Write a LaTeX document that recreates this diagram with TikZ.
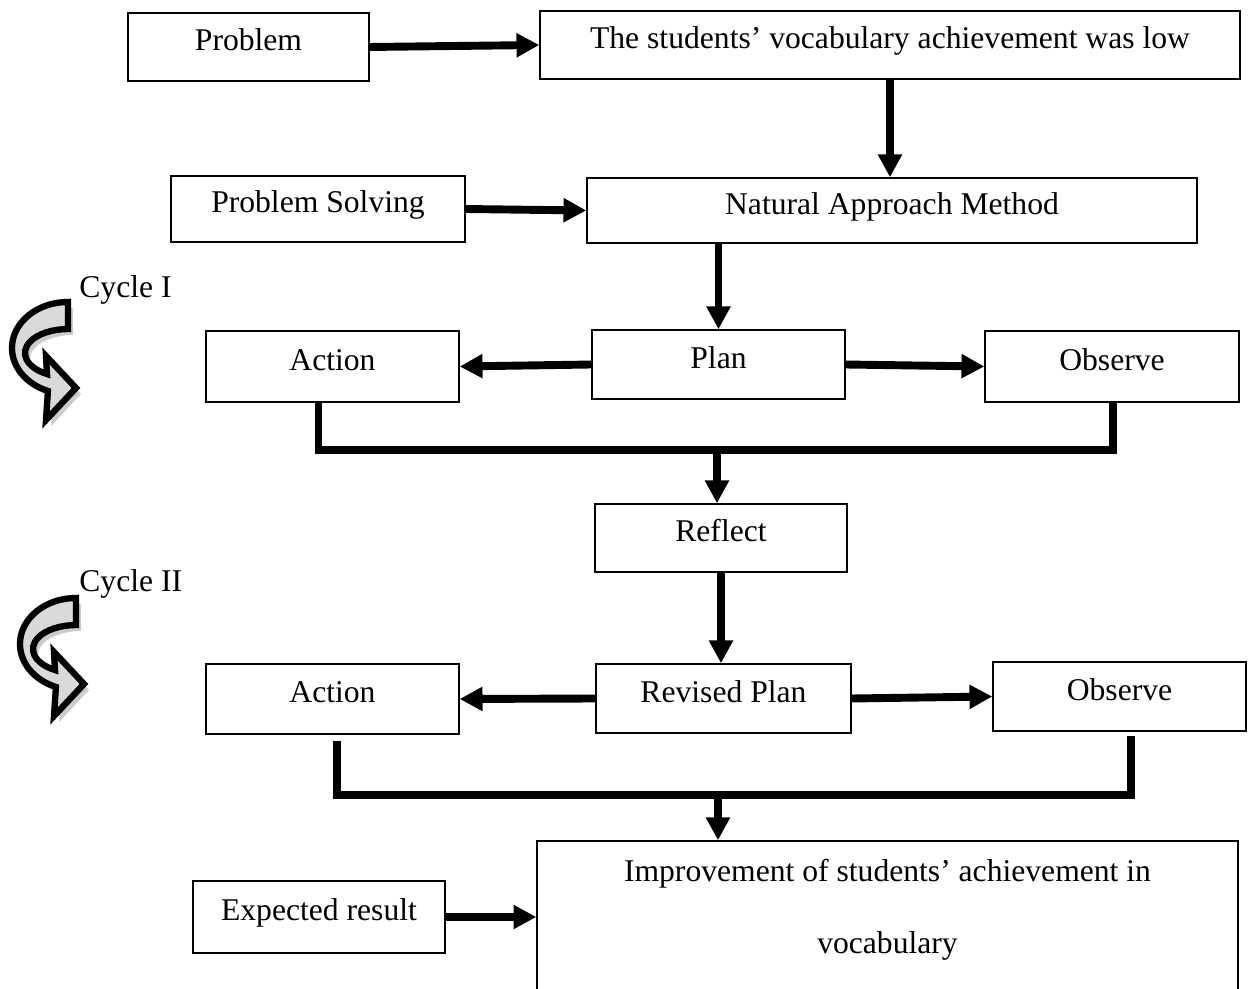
\documentclass[tikz,border=0pt]{standalone}
\usepackage{fontspec}
\setmainfont{Liberation Serif}
\usetikzlibrary{arrows.meta}

\tikzset{
  stage/.style={draw, line width=0.8pt, inner sep=0pt, text height=0.7em, text depth=0.26em,
    font=\fontsize{18}{22}\selectfont},
  link/.style={line width=4.5pt, -{Triangle[length=13pt,width=13pt]}},
  bracket/.style={line width=4pt, line join=miter},
  cyclabel/.style={anchor=base west, inner sep=0pt, font=\fontsize{18}{22}\selectfont}
}
\newcommand{\cyclepath}{(68,302) arc[start angle=-90, end angle=-249, x radius=56, y radius=46]
  -- (46,420) -- (76,388) -- (46,356) -- (47,374)
  arc[start angle=-240.8, end angle=-90, x radius=43, y radius=24] -- cycle}

\begin{document}
\begin{tikzpicture}[x=0.02cm,y=-0.02cm]
\useasboundingbox (0,0) rectangle (1252,989);

% boxes
\node[stage, minimum width=4.82cm, minimum height=1.36cm] (prob) at (248.5,47) {Problem};
\node[stage, minimum width=14cm, minimum height=1.36cm] (low) at (890,45) {The students’ vocabulary achievement was low};
\node[stage, minimum width=5.88cm, minimum height=1.32cm] (solving) at (318,209) {Problem Solving};
\node[stage, minimum width=12.2cm, minimum height=1.3cm] (method) at (892,210.5) {Natural Approach Method};

\node[stage, minimum width=5.06cm, minimum height=1.42cm] (action1) at (332.5,366.5) {Action};
\node[stage, minimum width=5.06cm, minimum height=1.38cm] (plan) at (718.5,364.5) {Plan};
\node[stage, minimum width=5.08cm, minimum height=1.42cm] (observe1) at (1112,366.5) {Observe};
\node[stage, minimum width=5.04cm, minimum height=1.36cm] (reflect) at (721,538) {Reflect};

\node[stage, minimum width=5.06cm, minimum height=1.4cm] (action2) at (332.5,699) {Action};
\node[stage, minimum width=5.1cm, minimum height=1.38cm] (revised) at (723.5,698.5) {Revised Plan};
\node[stage, minimum width=5.06cm, minimum height=1.38cm] (observe2) at (1119.5,696.5) {Observe};

\node[stage, minimum width=5.04cm, minimum height=1.44cm] (expected) at (319,917) {Expected result};
\node[stage, text height=, text depth=, minimum width=14.02cm, minimum height=3.36cm] (impr) at (887.5,925) {};
\node[align=center, font=\fontsize{18}{41}\selectfont] (imprtext) at (887.5,910)
  {Improvement of students’ achievement in\\vocabulary};

% cycle marks
\node[cyclabel] (cyc1) at (79,298) {Cycle I};
\node[cyclabel] (cyc2) at (79,592) {Cycle II};
\foreach \dx/\dy in {0/0, 8/296} {
  \begin{scope}[shift={(\dx,\dy)}]
    \fill[gray!40, shift={(5,6)}] \cyclepath;
    \filldraw[fill=gray!30, draw=black, line width=3.6pt, line join=miter] \cyclepath;
  \end{scope}
}

% connectors
\coordinate (bend1) at (717,450);
\coordinate (bend2) at (718,795);

\draw[link] (prob.east) -- (low.west);
\draw[link] (low.south) -- (low.south |- method.north);
\draw[link] (solving.east) -- (method.west);
\draw[link] (plan.north |- method.south) -- (plan.north);
\draw[link] (plan.west) -- (action1.east);
\draw[link] (plan.east) -- (observe1.west);

\draw[bracket] ([xshift=-0.28cm]action1.south) |- (bend1) -| ([xshift=0.02cm]observe1.south);
\draw[link] (bend1) -- (bend1 |- reflect.north);
\draw[link] (reflect.south) -- (reflect.south |- revised.north);

\draw[link] (revised.west) -- (action2.east);
\draw[link] (revised.east) -- (observe2.west);
\draw[bracket] ([xshift=0.09cm,yshift=-0.12cm]action2.south) |- (bend2) -| ([xshift=0.23cm,yshift=-0.08cm]observe2.south);
\draw[link] (bend2) -- (bend2 |- impr.north);
\draw[link] (expected.east) -- (expected.east -| impr.west);

\end{tikzpicture}
\end{document}
